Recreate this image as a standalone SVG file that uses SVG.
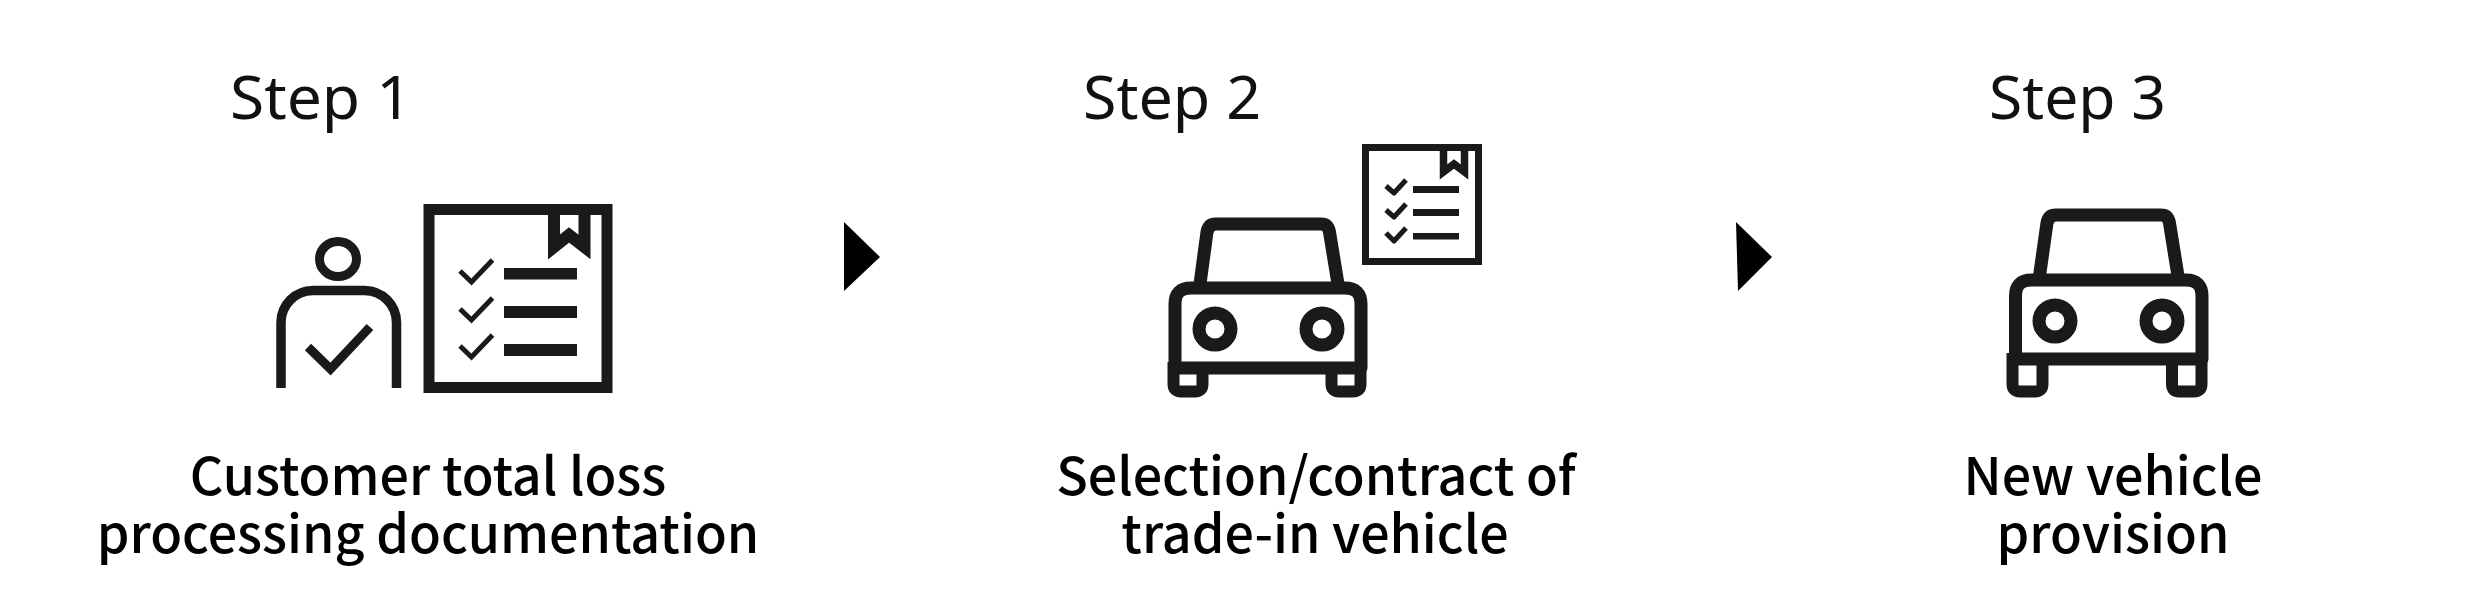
<svg xmlns="http://www.w3.org/2000/svg" width="2480" height="607" viewBox="0 0 2480 607">
<style>
.step{font-family:"Noto Sans","Liberation Sans",sans-serif;font-size:61px;font-weight:400;fill:#111}
.cap{font-family:"Noto Sans CJK JP","Noto Sans",sans-serif;font-size:52px;font-weight:500;fill:#000;text-anchor:middle}
.l{fill:none;stroke:#1a1a1a;stroke-linejoin:round}
.m{fill:none;stroke:#1a1a1a;stroke-linejoin:miter}
.b{fill:#1a1a1a}
</style>
<rect width="2480" height="607" fill="#fff"/>
<g id="step1">
<text class="step" x="230" y="119" textLength="182" lengthAdjust="spacingAndGlyphs">Step 1</text>
<g id="person">
<ellipse class="l" cx="338" cy="259" rx="18.500" ry="17.500" stroke-width="9"/>
<path class="m" stroke-width="9.500" d="M281 388V322.500A32 32 0 0 1 313 290.500H364.500A32 32 0 0 1 396.500 322.500V388"/>
<path class="m" stroke-width="9" d="M308 347L330.500 369L370 327"/>
</g>
<g id="doc1">
<rect class="m" x="429" y="209.500" width="178" height="178" stroke-width="11"/>
<path class="m" stroke-width="12" d="M554 205V247L569 235L584.500 247V205"/>
<g class="m" stroke-width="5"><path d="M460 271L471.500 282L492.500 260"/><path d="M460 309L471.500 320L492.500 298"/><path d="M460 346L471.500 357L492.500 335"/></g>
<rect class="b" x="504" y="268" width="73" height="11.500"/><rect class="b" x="504" y="306" width="73" height="12"/><rect class="b" x="504" y="344" width="73" height="12"/>
</g>
<text class="cap" x="428" y="495">Customer total loss</text>
<text class="cap" x="428" y="553">processing documentation</text>
</g>
<g id="connectors">
<polygon points="844,222 880,257 844,291" fill="#000"/>
<polygon points="1736,222 1772,257 1738,291" fill="#000"/>
</g>
<g id="step2">
<text class="step" x="1083" y="119" textLength="178" lengthAdjust="spacingAndGlyphs">Step 2</text>
<g id="car1" class="l" stroke-width="13">
<path d="M1200 284L1207 232Q1208.500 224 1216 224H1321Q1328 224 1329.500 232L1338 284"/>
<path d="M1175 368V304Q1175 288 1191 288H1345Q1361 288 1361 304V368Z"/>
<circle cx="1215" cy="329" r="16"/><circle cx="1322" cy="329" r="16"/>
<path stroke-width="12" d="M1173.500 362V384Q1173.500 391.500 1181 391.500H1195Q1202.500 391.500 1202.500 384V370"/>
<path stroke-width="12" d="M1331.500 370V384Q1331.500 391.500 1339 391.500H1353Q1360.500 391.500 1360.500 384V362"/>
</g>
<g id="doc2">
<rect class="m" x="1365.500" y="147.500" width="113" height="114" stroke-width="7"/>
<path class="m" stroke-width="7.500" d="M1443.500 146V172L1454 164L1464.500 172V146"/>
<g class="l" stroke-width="5"><path d="M1386 186L1394 193L1406 180"/><path d="M1386 210L1394 217L1406 204"/><path d="M1386 233L1394 241L1406 228"/></g>
<rect class="b" x="1413" y="186" width="46" height="7"/><rect class="b" x="1413" y="209" width="46" height="7"/><rect class="b" x="1413" y="233" width="46" height="6.500"/>
</g>
<text class="cap" x="1316" y="495">Selection/contract of</text>
<text class="cap" x="1315" y="553">trade-in vehicle</text>
</g>
<g id="step3">
<text class="step" x="1989" y="119" textLength="177" lengthAdjust="spacingAndGlyphs">Step 3</text>
<g id="car2" class="l" stroke-width="13">
<path d="M2039.500 276L2047 223Q2048.500 215 2056 215H2161Q2168 215 2169.500 223L2178 276"/>
<path d="M2015.500 359V296Q2015.500 280 2031.500 280H2186Q2202 280 2202 296V359Z"/>
<circle cx="2055" cy="321" r="16"/><circle cx="2162" cy="321" r="16"/>
<path stroke-width="12" d="M2012.500 353V384Q2012.500 391.500 2020 391.500H2035Q2042.500 391.500 2042.500 384V362"/>
<path stroke-width="12" d="M2172 362V384Q2172 391.500 2179 391.500H2194Q2201.500 391.500 2201.500 384V353"/>
</g>
<text class="cap" x="2113" y="495">New vehicle</text>
<text class="cap" x="2113" y="553">provision</text>
</g>
</svg>
